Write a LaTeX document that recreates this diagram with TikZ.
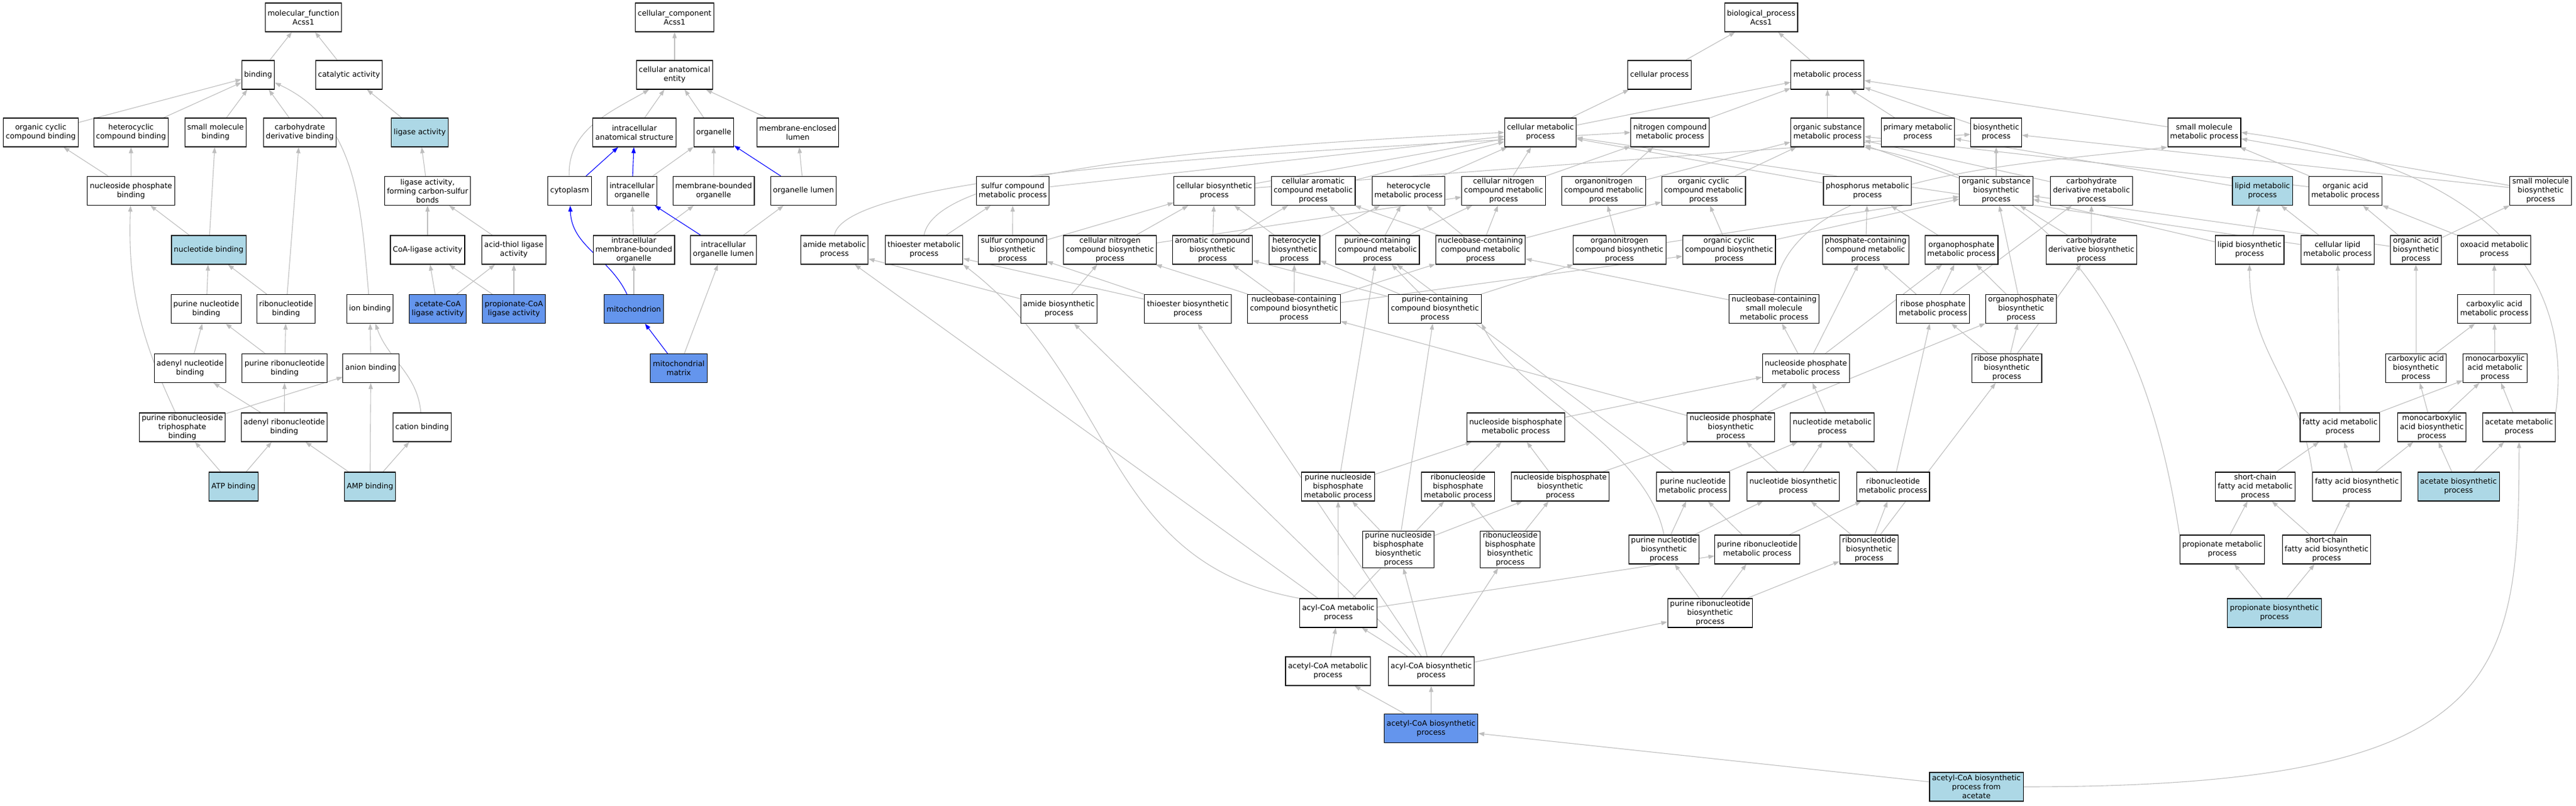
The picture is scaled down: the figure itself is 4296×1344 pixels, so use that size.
\documentclass[tikz,border=0pt]{standalone}
\usepackage{fontspec}
\setmainfont{DejaVu Sans}
\usetikzlibrary{arrows.meta,backgrounds}
\definecolor{edgegray}{HTML}{BEBEBE}
\definecolor{hitblue}{HTML}{ADD8E6}
\definecolor{annoblue}{HTML}{6495ED}

\begin{document}
\begin{tikzpicture}[
        x=1pt, y=-1pt,
        >={Triangle[length=10pt,width=7pt]},
        term/.style={draw=black, line width=1.1pt, fill=white, align=center, inner xsep=4pt, inner ysep=2pt, minimum height=48pt, font=\fontsize{12.5}{15}\selectfont},
        hit/.style={term, fill=hitblue},
        anno/.style={term, fill=annoblue},
        isa/.style={->, line width=1.1pt, draw=edgegray},
        partof/.style={->, line width=1.1pt, draw=blue},
    ]
    \useasboundingbox (0,0) rectangle (4296,1344);

    % molecular function
    \node[term] (mf) at (506,29) {molecular\_function\\Acss1};
    \node[term] (bind) at (430.5,125) {binding};
    \node[term] (cat) at (582,125) {catalytic activity};
    \node[term] (occb) at (68,221) {organic cyclic\\compound binding};
    \node[term] (hcb) at (218.5,221) {heterocyclic\\compound binding};
    \node[term] (smb) at (359.5,221) {small molecule\\binding};
    \node[term] (cdb) at (500,221) {carbohydrate\\derivative binding};
    \node[hit] (lig) at (700,221) {ligase activity};
    \node[term] (npb) at (218.5,318.5) {nucleoside phosphate\\binding};
    \node[term] (ligcs) at (713,318.5) {ligase activity,\\forming carbon-sulfur\\bonds};
    \node[hit] (nb) at (348,417) {nucleotide binding};
    \node[term] (coal) at (713,417) {CoA-ligase activity};
    \node[term] (atl) at (857,417) {acid-thiol ligase\\activity};
    \node[term] (pnb) at (344,515.5) {purine nucleotide\\binding};
    \node[term] (rnb) at (477,515.5) {ribonucleotide\\binding};
    \node[term] (ionb) at (617,515.5) {ion binding};
    \node[anno] (acl) at (730,515.5) {acetate-CoA\\ligase activity};
    \node[anno] (pcl) at (857,515.5) {propionate-CoA\\ligase activity};
    \node[term] (anb) at (317,614.5) {adenyl nucleotide\\binding};
    \node[term] (prnb) at (474.7,614.5) {purine ribonucleotide\\binding};
    \node[term] (anib) at (618.5,614.5) {anion binding};
    \node[term] (prtb) at (304,713) {purine ribonucleoside\\triphosphate\\binding};
    \node[term] (arnb) at (474,713) {adenyl ribonucleotide\\binding};
    \node[term] (catb) at (704,713) {cation binding};
    \node[hit] (atpb) at (389.4,812) {ATP binding};
    \node[hit] (ampb) at (617,812) {AMP binding};

    % cellular component
    \node[term] (cc) at (1125,29) {cellular\_component\\Acss1};
    \node[term] (cae) at (1125,125) {cellular anatomical\\entity};
    \node[term] (ias) at (1058,221) {intracellular\\anatomical structure};
    \node[term] (org) at (1190.4,221) {organelle};
    \node[term] (mel) at (1330.5,221) {membrane-enclosed\\lumen};
    \node[term] (cyto) at (950,318.5) {cytoplasm};
    \node[term] (io) at (1054,318.5) {intracellular\\organelle};
    \node[term] (mbo) at (1190,318.5) {membrane-bounded\\organelle};
    \node[term] (ol) at (1340,318.5) {organelle lumen};
    \node[term] (imbo) at (1057,417) {intracellular\\membrane-bounded\\organelle};
    \node[term] (iol) at (1206.5,417) {intracellular\\organelle lumen};
    \node[anno] (mito) at (1057,515.5) {mitochondrion};
    \node[anno] (mmx) at (1132,614.5) {mitochondrial\\matrix};

    % biological process
    \node[term] (bp) at (2937,29) {biological\_process\\Acss1};
    \node[term] (cp) at (2767.5,125) {cellular process};
    \node[term] (mp) at (3047.7,125) {metabolic process};
    \node[term] (cmp) at (2569,221) {cellular metabolic\\process};
    \node[term] (ncmp) at (2785,221) {nitrogen compound\\metabolic process};
    \node[term] (osmp) at (3047.7,221) {organic substance\\metabolic process};
    \node[term] (pmp) at (3198.4,221) {primary metabolic\\process};
    \node[term] (bsp) at (3329,221) {biosynthetic\\process};
    \node[term] (smmp) at (3676,221) {small molecule\\metabolic process};
    \node[term] (scmp) at (1689,318.5) {sulfur compound\\metabolic process};
    \node[term] (cbp) at (2025,318.5) {cellular biosynthetic\\process};
    \node[term] (cacmp) at (2190,318.5) {cellular aromatic\\compound metabolic\\process};
    \node[term] (hmp) at (2349,318.5) {heterocycle\\metabolic process};
    \node[term] (cncmp) at (2507.6,318.5) {cellular nitrogen\\compound metabolic\\process};
    \node[term] (oncmp) at (2674.4,318.5) {organonitrogen\\compound metabolic\\process};
    \node[term] (occmp) at (2841,318.5) {organic cyclic\\compound metabolic\\process};
    \node[term] (phmp) at (3114.4,318.5) {phosphorus metabolic\\process};
    \node[term] (osbp) at (3329,318.5) {organic substance\\biosynthetic\\process};
    \node[term] (cdmp) at (3488,318.5) {carbohydrate\\derivative metabolic\\process};
    \node[hit] (lmp) at (3773,318.5) {lipid metabolic\\process};
    \node[term] (oamp) at (3911.4,318.5) {organic acid\\metabolic process};
    \node[term] (smbp) at (4237,318.5) {small molecule\\biosynthetic\\process};
    \node[term] (amp) at (1391.5,417) {amide metabolic\\process};
    \node[term] (temp) at (1541,417) {thioester metabolic\\process};
    \node[term] (scbp) at (1688.6,417) {sulfur compound\\biosynthetic\\process};
    \node[term] (cncbp) at (1851,417) {cellular nitrogen\\compound biosynthetic\\process};
    \node[term] (acbp) at (2022,417) {aromatic compound\\biosynthetic\\process};
    \node[term] (hbp) at (2158.6,417) {heterocycle\\biosynthetic\\process};
    \node[term] (pccmp) at (2297,417) {purine-containing\\compound metabolic\\process};
    \node[term] (nccmp) at (2469,417) {nucleobase-containing\\compound metabolic\\process};
    \node[term] (oncbp) at (2700.7,417) {organonitrogen\\compound biosynthetic\\process};
    \node[term] (occbp) at (2883.6,417) {organic cyclic\\compound biosynthetic\\process};
    \node[term] (phcmp) at (3111.3,417) {phosphate-containing\\compound metabolic\\process};
    \node[term] (opmp) at (3271,417) {organophosphate\\metabolic process};
    \node[term] (cdbp) at (3487.7,417) {carbohydrate\\derivative biosynthetic\\process};
    \node[term] (lbp) at (3751.5,417) {lipid biosynthetic\\process};
    \node[term] (clmp) at (3898.3,417) {cellular lipid\\metabolic process};
    \node[term] (oabp) at (4029,417) {organic acid\\biosynthetic\\process};
    \node[term] (oxmp) at (4159.7,417) {oxoacid metabolic\\process};
    \node[term] (abp) at (1766,515.5) {amide biosynthetic\\process};
    \node[term] (tebp) at (1981,515.5) {thioester biosynthetic\\process};
    \node[term] (nccbp) at (2158,515.5) {nucleobase-containing\\compound biosynthetic\\process};
    \node[term] (pccbp) at (2393,515.5) {purine-containing\\compound biosynthetic\\process};
    \node[term] (ncsmp) at (2958.6,515.5) {nucleobase-containing\\small molecule\\metabolic process};
    \node[term] (rpmp) at (3223.7,515.5) {ribose phosphate\\metabolic process};
    \node[term] (opbp) at (3370.6,515.5) {organophosphate\\biosynthetic\\process};
    \node[term] (camp) at (4159.7,515.5) {carboxylic acid\\metabolic process};
    \node[term] (npmp) at (3011.7,614.5) {nucleoside phosphate\\metabolic process};
    \node[term] (rpbp) at (3346.7,614.5) {ribose phosphate\\biosynthetic\\process};
    \node[term] (cabp) at (4029,614.5) {carboxylic acid\\biosynthetic\\process};
    \node[term] (mcamp) at (4161,614.5) {monocarboxylic\\acid metabolic\\process};
    \node[term] (nbpmp) at (2527.8,713) {nucleoside bisphosphate\\metabolic process};
    \node[term] (npbp) at (2886.4,713) {nucleoside phosphate\\biosynthetic\\process};
    \node[term] (ntmp) at (3055.5,713) {nucleotide metabolic\\process};
    \node[term] (famp) at (3902.4,713) {fatty acid metabolic\\process};
    \node[term] (mcabp) at (4055.5,713) {monocarboxylic\\acid biosynthetic\\process};
    \node[term] (acmp) at (4201,713) {acetate metabolic\\process};
    \node[term] (pnbpmp) at (2231.5,812) {purine nucleoside\\bisphosphate\\metabolic process};
    \node[term] (rnbpmp) at (2431.5,812) {ribonucleoside\\bisphosphate\\metabolic process};
    \node[term] (nbpbp) at (2602,812) {nucleoside bisphosphate\\biosynthetic\\process};
    \node[term] (pntmp) at (2823.3,812) {purine nucleotide\\metabolic process};
    \node[term] (ntbp) at (2990.6,812) {nucleotide biosynthetic\\process};
    \node[term] (rntmp) at (3157,812) {ribonucleotide\\metabolic process};
    \node[term] (scfamp) at (3761,812) {short-chain\\fatty acid metabolic\\process};
    \node[term] (fabp) at (3930.6,812) {fatty acid biosynthetic\\process};
    \node[hit] (acbio) at (4100,812) {acetate biosynthetic\\process};
    \node[term] (pnbpbp) at (2332,917) {purine nucleoside\\bisphosphate\\biosynthetic\\process};
    \node[term] (rnbpbp) at (2518.5,917) {ribonucleoside\\bisphosphate\\biosynthetic\\process};
    \node[term] (pntbp) at (2775,917) {purine nucleotide\\biosynthetic\\process};
    \node[term] (prntmp) at (2930.6,917) {purine ribonucleotide\\metabolic process};
    \node[term] (rntbp) at (3117,917) {ribonucleotide\\biosynthetic\\process};
    \node[term] (prmp) at (3706,917) {propionate metabolic\\process};
    \node[term] (scfabp) at (3880,917) {short-chain\\fatty acid biosynthetic\\process};
    \node[term] (acoamp) at (2232,1023) {acyl-CoA metabolic\\process};
    \node[term] (prntbp) at (2852,1023) {purine ribonucleotide\\biosynthetic\\process};
    \node[hit] (prbp) at (3793,1023) {propionate biosynthetic\\process};
    \node[term] (actmp) at (2214.6,1120) {acetyl-CoA metabolic\\process};
    \node[term] (acoabp) at (2386.8,1120) {acyl-CoA biosynthetic\\process};
    \node[anno] (actbp) at (2386.7,1215.5) {acetyl-CoA biosynthetic\\process};
    \node[hit] (actac) at (3296,1313) {acetyl-CoA biosynthetic\\process from\\acetate};

    \begin{scope}[on background layer]
        \fill[white] (0,0) rectangle (4296,1344);

        % is_a: molecular function
        \foreach \c/\p in {bind/mf, cat/mf, occb/bind, hcb/bind, smb/bind, cdb/bind, lig/cat,
                npb/occb, npb/hcb, nb/npb, nb/smb, ligcs/lig, coal/ligcs, atl/ligcs,
                acl/coal, acl/atl, pcl/coal, pcl/atl, pnb/nb, rnb/nb, rnb/cdb, anib/ionb,
                anb/pnb, prnb/pnb, prnb/rnb, prtb/anib, arnb/anb, arnb/prnb,
                atpb/prtb, atpb/arnb, ampb/arnb, ampb/anib, ampb/catb}
            \draw[isa] (\c) -- (\p);
        \draw[isa] (ionb) to[out=95,in=-25] (bind);
        \draw[isa] (prtb) to[out=115,in=-92] (npb);
        \draw[isa] (catb) to[out=95,in=-70] (ionb);

        % cellular component
        \foreach \c/\p in {cae/cc, ias/cae, org/cae, mel/cae, io/org, mbo/org, ol/mel,
                imbo/io, imbo/mbo, iol/ol, mito/imbo, mmx/iol}
            \draw[isa] (\c) -- (\p);
        \draw[isa] (cyto) to[out=92,in=-150] (cae);
        \foreach \c/\p in {cyto/ias, io/ias, ol/org, iol/io, mmx/mito}
            \draw[partof] (\c) -- (\p);
        \draw[partof] (mito) to[out=115,in=-88] (cyto);

        % biological process
        \foreach \c/\p in {cp/bp, mp/bp, cmp/cp, cmp/mp, ncmp/mp, osmp/mp, pmp/mp, bsp/mp, smmp/mp,
                scmp/cmp, cbp/cmp, cbp/bsp, cacmp/cmp, hmp/cmp, cncmp/cmp, cncmp/ncmp,
                oncmp/ncmp, oncmp/osmp, occmp/osmp, phmp/cmp, osbp/osmp, osbp/bsp, cdmp/osmp,
                lmp/pmp, oamp/smmp, oamp/osmp, smbp/smmp, smbp/bsp,
                temp/scmp, scbp/scmp, scbp/cbp, cncbp/cbp, cncbp/cncmp, acbp/cbp, acbp/cacmp,
                hbp/cbp, hbp/hmp, pccmp/cacmp, pccmp/hmp, pccmp/cncmp, nccmp/cacmp, nccmp/hmp,
                nccmp/cncmp, nccmp/occmp, oncbp/oncmp, oncbp/osbp, occbp/occmp, occbp/osbp,
                phcmp/phmp, opmp/phmp, cdbp/cdmp, cdbp/osbp, lbp/lmp, lbp/osbp, clmp/lmp,
                clmp/cmp, oabp/oamp, oabp/smbp, oabp/osbp, oxmp/oamp,
                abp/amp, abp/cncbp, tebp/temp, tebp/scbp, nccbp/nccmp, nccbp/cncbp, nccbp/acbp,
                nccbp/hbp, nccbp/occbp, pccbp/pccmp, pccbp/hbp, pccbp/acbp, pccbp/oncbp,
                ncsmp/nccmp, rpmp/opmp, rpmp/cdmp, rpmp/phcmp, opbp/opmp, opbp/osbp, camp/oxmp,
                npmp/ncsmp, npmp/phcmp, npmp/opmp, rpbp/rpmp, rpbp/opbp, rpbp/cdbp,
                cabp/camp, cabp/oabp, mcamp/camp, nbpmp/npmp, npbp/npmp, npbp/nccbp, npbp/opbp,
                ntmp/npmp, famp/mcamp, famp/clmp, mcabp/mcamp, mcabp/cabp, acmp/mcamp,
                pnbpmp/nbpmp, pnbpmp/pccmp, rnbpmp/nbpmp, nbpbp/nbpmp, nbpbp/npbp,
                pntmp/ntmp, pntmp/pccmp, ntbp/ntmp, ntbp/npbp, rntmp/ntmp, rntmp/rpmp,
                scfamp/famp, fabp/famp, fabp/mcabp, acbio/mcabp, acbio/acmp,
                pnbpbp/pnbpmp, pnbpbp/nbpbp, pnbpbp/pccbp, rnbpbp/rnbpmp, rnbpbp/nbpbp,
                pntbp/pntmp, pntbp/ntbp, prntmp/pntmp, prntmp/rntmp,
                rntbp/rntmp, rntbp/ntbp, rntbp/rpbp, prmp/scfamp, scfabp/scfamp, scfabp/fabp,
                acoamp/pnbpmp, acoamp/rnbpmp, acoamp/amp, acoamp/prntmp,
                prntbp/pntbp, prntbp/prntmp, prntbp/rntbp, prbp/prmp, prbp/scfabp,
                actmp/acoamp, acoabp/acoamp, acoabp/pnbpbp, acoabp/rnbpbp, acoabp/prntbp,
                acoabp/tebp, acoabp/abp, actbp/actmp, actbp/acoabp, actac/actbp}
            \draw[isa] (\c) -- (\p);
        % long curved ones
        \draw[isa] (amp.north) .. controls +(20,-110) and +(-500,30) .. (ncmp.west);
        \draw[isa] (temp.north) .. controls +(20,-110) and +(-500,25) .. (cmp.west);
        \draw[isa] (ncsmp.north) .. controls +(20,-200) and +(-250,30) .. (smmp.south west);
        \draw[isa] (pntbp.north) .. controls +(-30,-150) and +(60,120) .. (pccbp.south east);
        \draw[isa] (fabp.north west) .. controls +(-20,-150) and +(0,150) .. (lbp.south);
        \draw[isa] (acmp.north east) .. controls +(40,-300) and +(300,40) .. (smmp.east);
        \draw[isa] (prmp.north west) .. controls +(-60,-400) and +(300,60) .. (osmp.south east);
        \draw[isa] (acoamp.north west) .. controls +(-330,-60) and +(260,200) .. (temp.south east);
        \draw[isa] (actac.east) .. controls +(800,0) and +(0,400) .. (acmp.south);
    \end{scope}

\end{tikzpicture}
\end{document}
